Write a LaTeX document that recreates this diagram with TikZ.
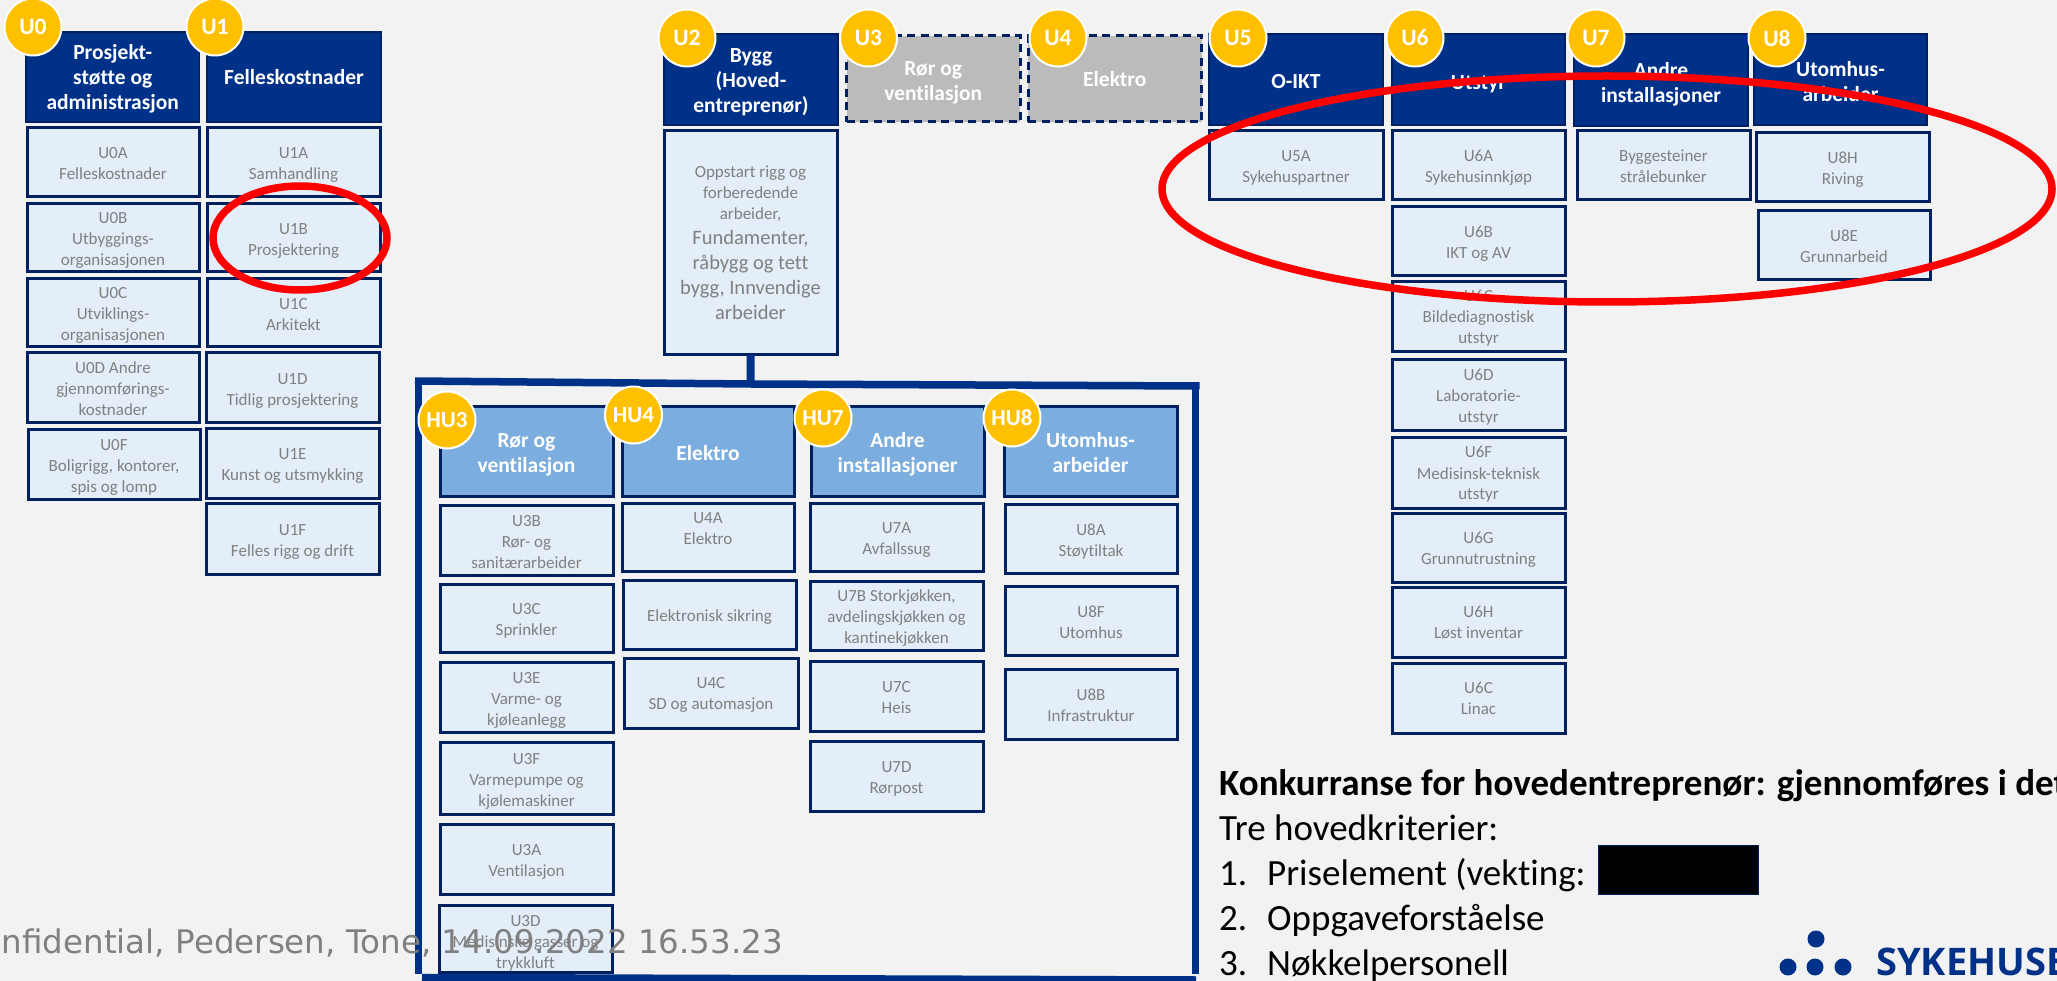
\documentclass[tikz,border=0pt]{standalone}
\usepackage{fontspec}
\setmainfont{Carlito}[Ligatures=NoCommon]
\newfontfamily\confont{DejaVu Sans}
\newfontfamily\logofont{Open Sans}
\definecolor{bgc}{HTML}{F2F2F2}
\definecolor{navy}{HTML}{003189}
\definecolor{edge}{HTML}{002060}
\definecolor{pale}{HTML}{E4EEF8}
\definecolor{midb}{HTML}{7BAEDE}
\definecolor{greyb}{HTML}{BBBBBB}
\definecolor{txtg}{HTML}{808080}
\definecolor{gold}{HTML}{FFC000}
\newcommand\subf{\fontsize{17}{21}\selectfont}
\newcommand\titf{\fontsize{21.5}{25}\selectfont}
\newcommand\bigf{\fontsize{20.5}{25}\selectfont}
\newcommand\tx[2]{\raisebox{\dimexpr -#1pt - 0.36em\relax}[0pt][0pt]{\begin{tabular}{@{}c@{}}#2\end{tabular}}}
\newcommand\bx[8]{%
  \pgfmathsetmacro\bxw{#5-#3-2}\pgfmathsetmacro\bxh{#6-#4-2}%
  \pgfmathsetmacro\bxx{(#5+#3)/2}\pgfmathsetmacro\bxy{(#6+#4)/2}%
  \node[#1,minimum width=\bxw pt,minimum height=\bxh pt] (#2) at (\bxx,\bxy) {\tx{#7}{#8}};}
\tikzset{
  x=1pt,y=-1pt,
  basebox/.style={rectangle,inner sep=0pt,outer sep=0pt},
  head/.style={basebox,fill=navy,draw=edge,line width=1.5pt,text=white,font=\titf\bfseries},
  midhead/.style={basebox,fill=midb,draw=edge,line width=3pt,text=white,font=\titf\bfseries},
  greyhead/.style={basebox,fill=greyb,draw=edge,line width=3pt,dash pattern=on 8pt off 5.5pt,text=white,font=\titf\bfseries},
  item/.style={basebox,fill=pale,draw=edge,line width=3pt,text=txtg,font=\subf},
  badge/.style={circle,fill=gold,draw=white,line width=2pt,minimum size=57pt,inner sep=0pt,text=white,font=\fontsize{23.5}{24}\selectfont\bfseries},
  hbadge/.style={badge,font=\fontsize{23}{24}\selectfont\bfseries},
  frameln/.style={draw=navy,line width=7.5pt},
  redring/.style={draw=red,line width=7.5pt},
  bodyt/.style={inner sep=0pt,anchor=base west,text=black,font=\fontsize{37}{40}\selectfont},
  logodot/.style={circle,fill=navy,minimum size=17pt,inner sep=0pt},
}
\begin{document}
\begin{tikzpicture}
\useasboundingbox (0,0) rectangle (2057,981);
\clip (0,0) rectangle (2057,981);
\fill[bgc] (0,0) rectangle (2057,981);
% columns U0, U1
\bx{head}{U0}{25}{31}{200.5}{123}{0}{Prosjekt-\\støtte og\\administrasjon}
\bx{head}{U1}{206}{31}{382}{123}{0}{Felleskostnader}
\bx{item}{U0A}{26}{127}{200}{198}{1}{U0A\\Felleskostnader}
\bx{item}{U0B}{26}{203}{200}{273}{1}{U0B\\Utbyggings-\\organisasjonen}
\bx{item}{U0C}{26}{278}{200}{348}{1}{U0C\\Utviklings-\\organisasjonen}
\bx{item}{U0D}{26}{352}{200}{424}{1}{U0D Andre\\gjennomførings-\\kostnader}
\bx{item}{U0F}{27}{429}{201}{500}{1}{U0F\\Boligrigg, kontorer,\\spis og lomp}
\bx{item}{U1A}{206}{127}{381}{198}{1}{U1A\\Samhandling}
\bx{item}{U1B}{206}{203}{381}{273}{1}{U1B\\Prosjektering}
\bx{item}{U1C}{206}{278}{381}{348}{1}{U1C\\Arkitekt}
\bx{item}{U1D}{205}{352}{380}{424}{1}{U1D\\Tidlig prosjektering}
\bx{item}{U1E}{205}{428}{380}{499}{1}{U1E\\Kunst og utsmykking}
\bx{item}{U1F}{205}{502}{380}{575}{1}{U1F\\Felles rigg og drift}
% U2..U8 heads
\bx{head}{U2}{663}{33}{839}{126}{0}{Bygg\\(Hoved-\\entreprenør)}
\bx{greyhead}{U3}{845.5}{35}{1021}{123}{1}{Rør og\\ventilasjon}
\bx{greyhead}{U4}{1027}{35}{1202.5}{123}{0}{Elektro}
\bx{head}{U5}{1208}{33}{1384}{126}{1}{O-IKT}
\bx{head}{U6}{1391}{33}{1566}{126}{2}{Utstyr}
\bx{head}{U7}{1573}{33}{1749}{127}{2}{Andre\\installasjoner}
\bx{head}{U8}{1753}{33}{1928}{126}{2}{Utomhus-\\arbeider}
\bx{item}{U2A}{663}{130}{838}{356}{0}{Oppstart rigg og\\forberedende\\arbeider,\\[4pt]{\bigf Fundamenter,}\\[4pt]{\bigf råbygg og tett}\\[4pt]{\bigf bygg, Innvendige}\\[4pt]{\bigf arbeider}}
\bx{item}{U5A}{1208}{130}{1384}{201}{1}{U5A\\Sykehuspartner}
\bx{item}{U6A}{1391}{130}{1566}{201}{1}{U6A\\Sykehusinnkjøp}
\bx{item}{U7X}{1576}{130}{1751}{201}{1}{Byggesteiner\\strålebunker}
\bx{item}{U8H}{1755.5}{132}{1930}{203}{1}{U8H\\Riving}
\bx{item}{U8E}{1757}{210}{1931}{281}{1}{U8E\\Grunnarbeid}
\bx{item}{U6B}{1391}{206}{1566}{277}{1}{U6B\\IKT og AV}
\bx{item}{U6C}{1391}{281}{1566}{353}{0}{U6C\\Bildediagnostisk\\utstyr}
\bx{item}{U6D}{1391}{359}{1566}{432}{0}{U6D\\Laboratorie-\\utstyr}
\bx{item}{U6F}{1391}{437}{1566}{509}{0}{U6F\\Medisinsk-teknisk\\utstyr}
\bx{item}{U6G}{1391}{512}{1566}{583}{0}{U6G\\Grunnutrustning}
\bx{item}{U6H}{1391}{586}{1566}{658}{0}{U6H\\Løst inventar}
\bx{item}{U6L}{1391}{662}{1566}{734}{0}{U6C\\Linac}
% lower group heads
\bx{midhead}{HU3}{439}{406}{614}{497}{1}{Rør og\\ventilasjon}
\bx{midhead}{HU4}{621}{406}{795}{497}{1}{Elektro}
\bx{midhead}{HU7}{810}{406}{985}{497}{1}{Andre\\installasjoner}
\bx{midhead}{HU8}{1003}{406}{1178}{497}{1}{Utomhus-\\arbeider}
\bx{item}{U3B}{439}{504}{614}{576}{1}{U3B\\Rør- og\\sanitærarbeider}
\bx{item}{U3C}{439}{583}{614}{653}{1}{U3C\\Sprinkler}
\bx{item}{U3E}{439}{661}{614}{733}{1}{U3E\\Varme- og\\kjøleanlegg}
\bx{item}{U3F}{439}{741}{614}{815}{1}{U3F\\Varmepumpe og\\kjølemaskiner}
\bx{item}{U3A}{439}{823}{614}{895}{1}{U3A\\Ventilasjon}
\bx{item}{U3D}{438}{904}{613}{973}{3}{U3D\\Medisinske gasser og\\trykkluft}
\bx{item}{U4A}{621}{502}{795}{572}{-9.5}{U4A\\Elektro}
\bx{item}{U4S}{622}{579}{797}{650}{1}{Elektronisk sikring}
\bx{item}{U4C}{623}{657}{799}{729}{0}{U4C\\SD og automasjon}
\bx{item}{U7A}{809}{502}{984}{572}{1}{U7A\\Avfallssug}
\bx{item}{U7B}{809}{580}{984}{651}{1}{U7B Storkjøkken,\\avdelingskjøkken og\\kantinekjøkken}
\bx{item}{U7C}{809}{660}{984}{732}{1}{U7C\\Heis}
\bx{item}{U7D}{809}{740}{984}{812}{1}{U7D\\Rørpost}
\bx{item}{U8A}{1004}{503}{1178}{574}{1}{U8A\\Støytiltak}
\bx{item}{U8F}{1004}{585}{1178}{656}{1}{U8F\\Utomhus}
\bx{item}{U8B}{1004}{668}{1178}{740}{1}{U8B\\Infrastruktur}
% frame and connector
\coordinate (ftl) at (415,381);
\coordinate (ftc) at (750.6,384);
\coordinate (ftr) at (1199.5,386);
\coordinate (frt) at (1195.5,383);
\coordinate (frb) at (1195.5,974);
\coordinate (flt) at (418.5,378);
\coordinate (fbl) at (418.5,974);
\coordinate (fbbl) at (422,977.5);
\coordinate (fbbr) at (1196,980);
\draw[frameln] (ftl) -- (ftc) -- (ftr);
\draw[frameln] (frt) -- (frb);
\draw[frameln] (flt) -- (fbl);
\draw[frameln] (fbbl) -- (fbbr);
\draw[draw=navy,line width=8pt] (U2A.south) -- (ftc);
% badges
\node[badge] (bU0) at (33,27) {U0};
\node[badge] (bU1) at (215,27) {U1};
\node[badge] (bU2) at (687,38) {U2};
\node[badge] (bU3) at (868.5,38) {U3};
\node[badge] (bU4) at (1058,38) {U4};
\node[badge] (bU5) at (1238,38) {U5};
\node[badge] (bU6) at (1415,38) {U6};
\node[badge] (bU7) at (1596,38) {U7};
\node[badge] (bU8) at (1777,38) {U8};
\node[hbadge] (bH3) at (447,420) {HU3};
\node[hbadge] (bH4) at (633.5,415) {HU4};
\node[hbadge] (bH7) at (823,418) {HU7};
\node[hbadge] (bH8) at (1012,418) {HU8};
% red rings
\draw[redring] (300,238) ellipse [x radius=87,y radius=52];
\draw[redring] (1607,189) ellipse [x radius=445,y radius=113];
% text block
\node[bodyt,font=\fontsize{37}{40}\selectfont\bfseries] (kk) at (1219,795) {Konkurranse for hovedentreprenør: gjennomføres i det};
\node[bodyt] (tre) at (1219,840) {Tre hovedkriterier:};
\node[bodyt] (k1) at (1219,885) {\makebox[48pt][l]{1.}Priselement (vekting:};
\node[bodyt] (k2) at (1219,930) {\makebox[48pt][l]{2.}Oppgaveforståelse};
\node[bodyt] (k3) at (1219,975) {\makebox[48pt][l]{3.}Nøkkelpersonell};
\node[basebox,fill=black,draw=edge,line width=1.5pt,minimum width=160pt,minimum height=49pt] (blk) at (1678.5,870) {};
% logo
\node[logodot] (d0) at (1816,939) {};
\node[logodot] (d1) at (1788,967) {};
\node[logodot] (d2) at (1815,967) {};
\node[logodot] (d3) at (1843,967) {};
\node[inner sep=0pt,anchor=base west,text=navy,font=\logofont\fontsize{38}{40}\selectfont\bfseries] (logo) at (1876,975) {SYKEHUSB};
% footer
\node[inner sep=0pt,anchor=base east,text=txtg,font=\confont\fontsize{32.5}{36}\selectfont] (conf) at (783,953) {nfidential, Pedersen, Tone, 14.09.2022 16.53.23};
\end{tikzpicture}
\end{document}
